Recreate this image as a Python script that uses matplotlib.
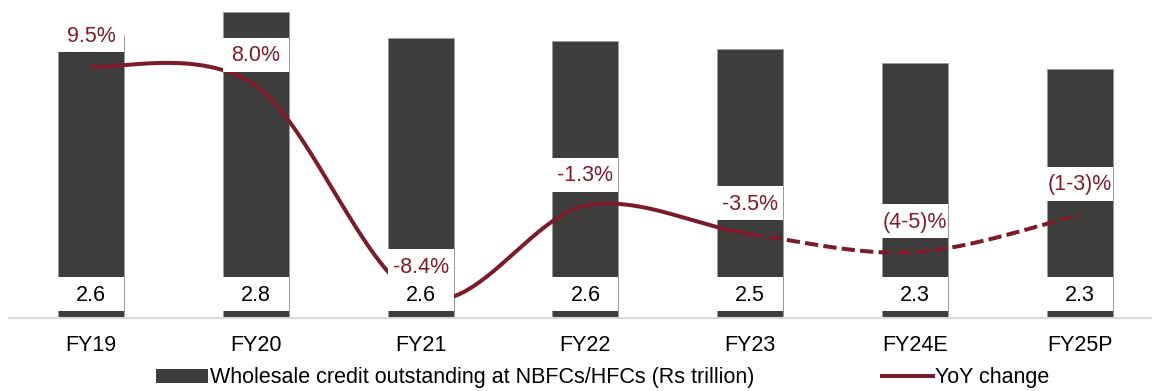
import matplotlib
matplotlib.use("Agg")
import matplotlib.pyplot as plt
import numpy as np
from matplotlib.patches import Rectangle, Patch
from matplotlib.lines import Line2D
from matplotlib import transforms

plt.rcParams['font.family'] = ['Liberation Sans', 'DejaVu Sans']

years = ["FY19", "FY20", "FY21", "FY22", "FY23", "FY24E", "FY25P"]
credit = [2.59, 2.80, 2.56, 2.53, 2.46, 2.33, 2.28]
credit_labels = ["2.6", "2.8", "2.6", "2.6", "2.5", "2.3", "2.3"]
yoy = [9.5, 8.0, -8.4, -1.3, -3.5, -4.9, -2.0]
yoy_labels = ["9.5%", "8.0%", "-8.4%", "-1.3%", "-3.5%", "(4-5)%", "(1-3)%"]
n_actual = 5  # FY19..FY23 solid, rest dashed

BAR_C = '#3d3d3b'
LINE_C = '#7b1c2c'
FS = 15.5
LW = 2.9

W, H = 1152, 391
fig = plt.figure(figsize=(W / 100, H / 100), dpi=100)
ax_h = 310
ax = fig.add_axes([8.6 / W, (H - 318) / H, (W - 8.6) / W, ax_h / H])
x = np.arange(len(years))
bw = 0.40
ax.bar(x, credit, width=bw, color=BAR_C, edgecolor='#9a9a9a', linewidth=0.6, zorder=1)
ax.set_xlim(-0.5, (W - 91) / 164.8)
ax.set_ylim(0, 2.836)
for s in ['left', 'right', 'top']:
    ax.spines[s].set_visible(False)
ax.spines['bottom'].set_color('#d9d9d9')
ax.spines['bottom'].set_linewidth(1.5)
ax.set_yticks([])
ax.set_xticks(x)
ax.set_xticklabels(years, fontsize=FS)
ax.tick_params(axis='x', length=0, pad=12.5)

ax2 = ax.twinx()
y0, y1 = -10, 14.03
ax2.set_ylim(y0, y1)
for s in ax2.spines.values():
    s.set_visible(False)
ax2.set_yticks([])

# Catmull-Rom (Excel-like smoothing) through the yoy points
P = np.column_stack([x, yoy]).astype(float)
Pext = np.vstack([P[0], P, P[-1]])
segs = []
for i in range(len(P) - 1):
    p0, p1, p2, p3 = Pext[i], Pext[i + 1], Pext[i + 2], Pext[i + 3]
    c1 = p1 + (p2 - p0) / 6
    c2 = p2 - (p3 - p1) / 6
    t = np.linspace(0, 1, 60)[:, None]
    b = (1 - t) ** 3 * p1 + 3 * (1 - t) ** 2 * t * c1 + 3 * (1 - t) * t ** 2 * c2 + t ** 3 * p2
    segs.append(b)
solid = np.vstack(segs[:n_actual - 1])
dashed = np.vstack(segs[n_actual - 1:])
ax2.plot(solid[:, 0], solid[:, 1], color=LINE_C, lw=LW, solid_capstyle='round', zorder=2)
ax2.plot(dashed[:, 0], dashed[:, 1], color=LINE_C, lw=LW, linestyle=(0, (3.3, 1.3)),
         dash_capstyle='butt', zorder=2)

blend = transforms.blended_transform_factory(ax2.transData, ax2.transAxes)

# bar value labels with white boxes
for i, lab in enumerate(credit_labels):
    ax2.add_patch(Rectangle((i - bw / 2, 7 / ax_h), bw, 34 / ax_h, transform=blend,
                            facecolor='white', edgecolor='none', zorder=3))
    ax2.text(i, 22.5 / ax_h, lab, transform=blend, ha='center', va='center',
             fontsize=FS, color='black', zorder=4)

# yoy labels with white boxes
for i, (v, lab) in enumerate(zip(yoy, yoy_labels)):
    yc = (v - y0) / (y1 - y0) + 30 / ax_h
    ax2.add_patch(Rectangle((i - bw / 2, yc - 16 / ax_h), bw, 34 / ax_h, transform=blend,
                            facecolor='white', edgecolor='none', zorder=3))
    ax2.text(i, yc, lab, transform=blend, ha='center', va='center',
             fontsize=FS, color=LINE_C, zorder=4)

handles = [Patch(facecolor=BAR_C, edgecolor='none'),
           Line2D([0], [0], color=LINE_C, lw=LW)]
labels = ["Wholesale credit outstanding at NBFCs/HFCs (Rs trillion)", "YoY change"]
fig.legend(handles, labels, loc='center', bbox_to_anchor=(603 / W, 1 - 378 / H),
           ncol=2, frameon=False, fontsize=FS, handlelength=2.4, handleheight=0.6,
           handletextpad=0.1, columnspacing=5.9)

fig.savefig("out.png", dpi=100)
